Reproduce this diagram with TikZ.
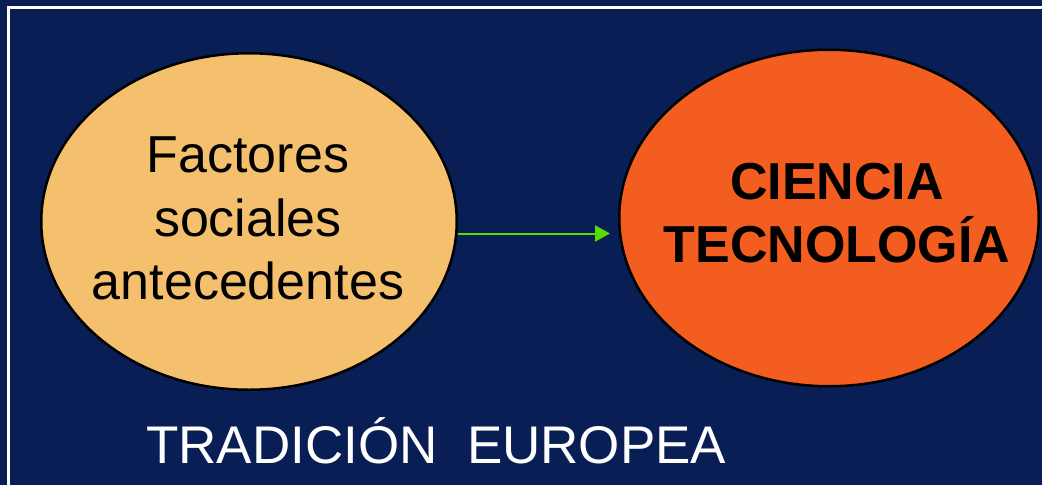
\documentclass[tikz,border=0pt]{standalone}
\usepackage{fontspec}
\setmainfont{Liberation Sans}
\usetikzlibrary{shapes.geometric,arrows.meta}
\definecolor{navy}{RGB}{10,30,86}
\definecolor{sand}{RGB}{245,192,110}
\definecolor{flame}{RGB}{243,93,31}
\definecolor{lime}{RGB}{86,220,0}
\begin{document}
\begin{tikzpicture}[x=1pt,y=-1pt,
  ellipsebox/.style={ellipse, draw=black, line width=2.5pt, inner sep=0pt},
  lbl/.style={align=center, inner sep=0pt, text=black},
  link/.style={lime, line width=2pt, -{Triangle[length=15pt,width=16pt]}}]
\useasboundingbox (0,0) rectangle (1042,485);
\clip (0,0) rectangle (1042,485);
\fill[navy] (0,0) rectangle (1042,485);
\draw[white, line width=2.5pt] (8.5,500) -- (8.5,7.5) -- (1060,7.5);
\node[ellipsebox, fill=sand, minimum width=415.5pt, minimum height=336.5pt] (L) at (249,221.5) {};
\node[ellipsebox, fill=flame, minimum width=419.5pt, minimum height=336.5pt] (R) at (829,218) {};
\node[lbl, font=\fontsize{52}{63.5}\selectfont] (Ltext) at (248,218.5) {Factores\\sociales\\antecedentes};
\node[lbl, font=\fontsize{52}{63}\selectfont\bfseries] (Rtext) at (837,213.5) {CIENCIA\\TECNOLOGÍA};
\node[anchor=base west, inner sep=0pt, text=white, font=\fontsize{53}{60}\selectfont] (T) at (146,463) {TRADICIÓN\ \ EUROPEA};
\draw[link, shorten >=8pt] ([yshift=-12pt]L.east) -- ([yshift=-12pt]L.east -| R.west);
\end{tikzpicture}
\end{document}
